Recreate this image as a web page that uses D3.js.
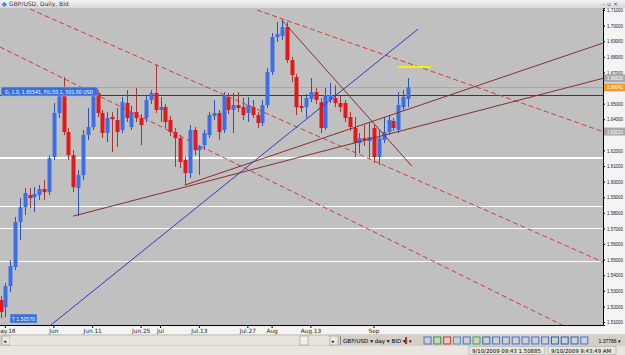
<!DOCTYPE html>
<html lang="en">
<head>
<meta charset="UTF-8">
<title>GBP/USD, Daily, Bid</title>
<script src="https://cdn.jsdelivr.net/npm/d3@7"></script>
<style>
  body { margin: 0; background: #d4d0c8; }
  svg { display: block; font-family: "DejaVu Sans", sans-serif; }
</style>
</head>
<body>
<svg id="mainsvg" width="625" height="355"></svg>
<script>
// daily GBP/USD bars, 2009-05-15 .. 2009-09-10 (weekdays)
const openP = [1.5241,1.5196,1.5331,1.5452,1.5741,1.5837,1.5914,1.5901,1.5914,1.5953,
  1.5933,1.6158,1.6440,1.6555,1.6318,1.6170,1.5959,1.6042,1.6299,1.6350,
  1.6568,1.6440,1.6311,1.6414,1.6395,1.6331,1.6504,1.6350,1.6446,1.6408,
  1.6408,1.6523,1.6568,1.6459,1.6478,1.6395,1.6318,1.6279,1.6138,1.6055,
  1.6331,1.6202,1.6235,1.6299,1.6420,1.6440,1.6331,1.6542,1.6459,1.6491,
  1.6478,1.6440,1.6478,1.6427,1.6376,1.6491,1.6702,1.6927,1.6933,1.6991,
  1.6779,1.6671,1.6485,1.6478,1.6530,1.6574,1.6510,1.6344,1.6523,1.6536,
  1.6504,1.6504,1.6414,1.6344,1.6247,1.6279,1.6260,1.6344,1.6158,1.6267,
  1.6318,1.6388,1.6331,1.6478,1.6530];
const highP = [1.5267,1.5350,1.5497,1.5773,1.5895,1.5959,1.5959,1.5965,1.5978,1.6010,
  1.6170,1.6504,1.6587,1.6671,1.6344,1.6202,1.6074,1.6331,1.6472,1.6606,
  1.6587,1.6459,1.6446,1.6446,1.6472,1.6542,1.6587,1.6485,1.6600,1.6433,
  1.6549,1.6587,1.6747,1.6542,1.6497,1.6420,1.6344,1.6299,1.6158,1.6363,
  1.6350,1.6235,1.6331,1.6446,1.6523,1.6459,1.6574,1.6568,1.6568,1.6574,
  1.6536,1.6542,1.6523,1.6446,1.6523,1.6728,1.6953,1.7023,1.7036,1.7023,
  1.6799,1.6690,1.6555,1.6562,1.6664,1.6600,1.6536,1.6600,1.6632,1.6619,
  1.6549,1.6523,1.6446,1.6414,1.6311,1.6363,1.6382,1.6363,1.6331,1.6414,
  1.6427,1.6408,1.6574,1.6587,1.6664];
const lowP = [1.5126,1.5132,1.5292,1.5433,1.5626,1.5786,1.5831,1.5805,1.5882,1.5882,
  1.5914,1.6138,1.6408,1.6299,1.6138,1.5933,1.5779,1.6010,1.6267,1.6331,
  1.6414,1.6279,1.6254,1.6190,1.6222,1.6311,1.6382,1.6331,1.6382,1.6235,
  1.6382,1.6497,1.6440,1.6382,1.6344,1.6292,1.6094,1.6087,1.5978,1.6023,
  1.6170,1.6042,1.6202,1.6279,1.6395,1.6267,1.6311,1.6433,1.6311,1.6446,
  1.6395,1.6382,1.6408,1.6344,1.6356,1.6472,1.6683,1.6895,1.6908,1.6760,
  1.6638,1.6427,1.6446,1.6408,1.6510,1.6497,1.6311,1.6331,1.6504,1.6478,
  1.6446,1.6382,1.6324,1.6158,1.6183,1.6228,1.6151,1.6119,1.6106,1.6247,
  1.6299,1.6324,1.6311,1.6459,1.6478];
const closeP = [1.5164,1.5331,1.5459,1.5741,1.5837,1.5927,1.5895,1.5921,1.5953,1.5933,
  1.6151,1.6440,1.6555,1.6318,1.6170,1.5965,1.6042,1.6299,1.6350,1.6568,
  1.6440,1.6311,1.6408,1.6401,1.6318,1.6510,1.6408,1.6446,1.6408,1.6363,
  1.6523,1.6568,1.6459,1.6478,1.6382,1.6318,1.6279,1.6126,1.6055,1.6331,
  1.6202,1.6228,1.6311,1.6427,1.6440,1.6318,1.6555,1.6459,1.6491,1.6472,
  1.6427,1.6491,1.6427,1.6376,1.6491,1.6702,1.6927,1.6946,1.6991,1.6779,
  1.6683,1.6478,1.6472,1.6536,1.6574,1.6523,1.6344,1.6555,1.6555,1.6504,
  1.6478,1.6408,1.6350,1.6247,1.6279,1.6267,1.6286,1.6158,1.6279,1.6318,
  1.6395,1.6344,1.6491,1.6542,1.66042];

// x-axis labels
const tickDates = ["2009-05-18","2009-06-01","2009-06-11","2009-06-25","2009-07-01",
  "2009-07-13","2009-07-27","2009-08-03","2009-08-13","2009-09-01"];
const tickLabels = ["May.18","Jun","Jun.11","Jun.25","Jul","Jul.13","Jul.27","Aug","Aug.13","Sep"];

// drawn objects: trendlines as [bar index, price] pairs
const trendFrom = [[6.1,1.7106],[52.9,1.7100],[-0.1,1.6863],[10.4,1.5081],[15,1.5779],[38,1.5978],[58,1.7036]];
const trendTo   = [[124.2,1.5485],[124.2,1.6321],[115.8,1.5081],[86.1,1.6978],[124.2,1.6662],[124.2,1.6888],[84.8,1.6100]];
const trendKind = ["dash","dash","dash","blue","solid","solid","solid"];
const yellowLine = [[82,1.6735],[88.8,1.6735]];
const whiteLevels = [1.5844,1.5701,1.5491];
const supportLevel = 1.6151;
const bidPrice = 1.66042;
const entryPrice = 1.65541;
const axisTags = [{v:1.6662,t:"1.66620",c:"#aaaaaa"},{v:1.6321,t:"1.63210",c:"#aaaaaa"},{v:1.66042,t:"1.66042",c:"#f09a2a"}];

const fmt = d3.timeFormat("%Y-%m-%d");
const dates = d3.timeDay.range(new Date(2009,4,15), new Date(2009,8,11))
  .filter(d => d.getDay() !== 0 && d.getDay() !== 6).map(fmt);
const bars = dates.map((d,i) => ({d, o:openP[i], h:highP[i], l:lowP[i], c:closeP[i]}));

const svg = d3.select("#mainsvg");
const plot = {left:0, right:603, top:8, bottom:325};

const step = 4.85;
const x0 = 0.5 - step/2;
const xScale = d3.scaleBand().domain(dates).range([x0, x0 + dates.length*step]);
const xc = d => xScale(d) + xScale.bandwidth()/2;
const xAt = i => x0 + xScale.step()*(i + 0.5);
const yScale = d3.scaleLinear().domain([1.5081, 1.7113]).range([plot.bottom, plot.top]);

// frames
svg.append("rect").attr("width",625).attr("height",355).attr("fill","#d4d0c8");
const defs = svg.append("defs");
const grad = defs.append("linearGradient").attr("id","tb").attr("x2",0).attr("y2",1);
grad.append("stop").attr("offset",0).attr("stop-color","#f4f4f4");
grad.append("stop").attr("offset",1).attr("stop-color","#d8d8d8");
svg.append("rect").attr("width",625).attr("height",plot.top).attr("fill","url(#tb)");
svg.append("rect").attr("x",plot.right).attr("y",plot.top).attr("width",22).attr("height",plot.bottom-plot.top+9).attr("fill","#f4f4f4");
svg.append("rect").attr("x",0).attr("y",plot.bottom).attr("width",625).attr("height",9).attr("fill","#f4f4f4");
svg.append("rect").attr("x",plot.left).attr("y",plot.top).attr("width",plot.right-plot.left).attr("height",plot.bottom-plot.top).attr("fill","#c0c0c0");

defs.append("clipPath").attr("id","clip").append("rect")
  .attr("x",plot.left).attr("y",plot.top).attr("width",plot.right-plot.left).attr("height",plot.bottom-plot.top);
const g = svg.append("g").attr("clip-path","url(#clip)");

// horizontal levels
whiteLevels.forEach(v => {
  g.append("line").attr("x1",plot.left).attr("x2",plot.right)
    .attr("y1",Math.round(yScale(v))+0.5).attr("y2",Math.round(yScale(v))+0.5)
    .attr("stroke","#ffffff").attr("stroke-width",1);
});
g.append("line").attr("x1",plot.left).attr("x2",plot.right)
  .attr("y1",Math.round(yScale(supportLevel))).attr("y2",Math.round(yScale(supportLevel)))
  .attr("stroke","#ffffff").attr("stroke-width",2);
g.append("line").attr("x1",plot.left).attr("x2",plot.right)
  .attr("y1",Math.round(yScale(bidPrice))+0.5).attr("y2",Math.round(yScale(bidPrice))+0.5)
  .attr("stroke","#e09a60").attr("stroke-width",1);
g.append("line").attr("x1",plot.left).attr("x2",plot.right)
  .attr("y1",Math.round(yScale(entryPrice))+0.5).attr("y2",Math.round(yScale(entryPrice))+0.5)
  .attr("stroke","#3c3c3c").attr("stroke-width",1);

// candles
const up = d => d.c >= d.o;
g.selectAll(".wick").data(bars).join("line").attr("class","wick")
  .attr("x1",d => Math.round(xc(d.d))+0.5).attr("x2",d => Math.round(xc(d.d))+0.5)
  .attr("y1",d => yScale(d.h)).attr("y2",d => yScale(d.l))
  .attr("stroke",d => up(d) ? "#3050c0" : "#a83434").attr("stroke-width",1);
g.selectAll(".body").data(bars).join("rect").attr("class","body")
  .attr("x",d => Math.round(xc(d.d)) - 1.5)
  .attr("width",4)
  .attr("y",d => yScale(Math.max(d.o,d.c)))
  .attr("height",d => Math.max(1.2, Math.abs(yScale(d.o)-yScale(d.c))))
  .attr("fill",d => up(d) ? "#3a70e4" : "#e41818");

// trendlines
trendFrom.forEach((a,k) => {
  const b = trendTo[k];
  const kind = trendKind[k];
  g.append("line")
    .attr("x1",xAt(a[0])).attr("y1",yScale(a[1]))
    .attr("x2",xAt(b[0])).attr("y2",yScale(b[1]))
    .attr("stroke", kind === "dash" ? "#d23a3a" : kind === "blue" ? "#3636c8" : "#8a2e2e")
    .attr("stroke-width",1)
    .attr("stroke-dasharray", kind === "dash" ? "5,3" : null);
});
g.append("line")
  .attr("x1",xAt(yellowLine[0][0])).attr("y1",yScale(yellowLine[0][1]))
  .attr("x2",xAt(yellowLine[1][0])).attr("y2",yScale(yellowLine[1][1]))
  .attr("stroke","#f4f000").attr("stroke-width",2);

// position and order tags
const pos = svg.append("g").attr("transform",`translate(1,${Math.round(yScale(entryPrice))-8})`);
pos.append("rect").attr("width",97).attr("height",9).attr("rx",2).attr("fill","#3a6fd8").attr("stroke","#9cb8ee").attr("stroke-width",0.6);
pos.append("text").attr("x",4).attr("y",6.6).attr("font-size",5.6).attr("fill","#ffffff")
  .attr("textLength",88).attr("lengthAdjust","spacingAndGlyphs")
  .text("D, 1.0, 1.65541, P/L:50.1, 501.00 USD");
const ord = svg.append("g").attr("transform",`translate(10,${plot.bottom-11})`);
ord.append("rect").attr("width",27).attr("height",9).attr("fill","#3a6fd8").attr("stroke","#9cb8ee").attr("stroke-width",0.6);
ord.append("text").attr("x",2).attr("y",6.6).attr("font-size",5.6).attr("fill","#ffffff")
  .attr("textLength",23).attr("lengthAdjust","spacingAndGlyphs").text("T 1.50570");

// y axis (labels hidden where a price tag sits on top of them)
const yTicks = d3.range(151,172).map(v => v/100)
  .filter(v => !axisTags.some(t => Math.abs(yScale(t.v) - yScale(v)) < 5));
const yAxis = d3.axisRight(yScale).tickValues(yTicks)
  .tickFormat(d3.format(".5f")).tickSize(2).tickPadding(1);
const ya = svg.append("g").attr("transform",`translate(${plot.right},0)`).call(yAxis);
ya.select(".domain").attr("stroke","#000");
ya.selectAll(".tick text").attr("font-size",5.1).attr("font-family","Liberation Sans").attr("fill","#202020")
  .attr("text-anchor","end").attr("x",20)
  .attr("textLength",16).attr("lengthAdjust","spacingAndGlyphs");
axisTags.forEach(t => {
  const yy = yScale(t.v);
  svg.append("rect").attr("x",plot.right+1).attr("y",yy-4).attr("width",21).attr("height",8).attr("fill",t.c);
  svg.append("text").attr("x",plot.right+20).attr("y",yy+2.1).attr("font-size",5.1).attr("font-family","Liberation Sans")
    .attr("text-anchor","end").attr("fill","#ffffff")
    .attr("textLength",16).attr("lengthAdjust","spacingAndGlyphs").text(t.t);
});

// x axis
const xAxis = d3.axisBottom(xScale).tickValues(tickDates)
  .tickFormat((d,i) => tickLabels[i]).tickSize(3).tickPadding(1).tickSizeOuter(0);
const xa = svg.append("g").attr("transform",`translate(0,${plot.bottom})`).call(xAxis);
xa.select(".domain").attr("d",`M0,0.5H${plot.right}`).attr("stroke","#000");
xa.selectAll(".tick text").attr("font-size",5.8).attr("font-family","DejaVu Sans").attr("fill","#202020");

// title bar
svg.append("text").attr("x",1).attr("y",6.5).attr("font-size",7).attr("fill","#2c6ad0").text("\u2756");
svg.append("text").attr("x",9).attr("y",6.3).attr("font-size",6).attr("fill","#303850").text("GBP/USD, Daily, Bid");
svg.append("text").attr("x",602).attr("y",6.3).attr("font-size",6).attr("fill","#555").text("\u2013 \u25AB \u00D7");

// toolbar row
const tb = svg.append("g").attr("transform","translate(0,334)");
tb.append("rect").attr("x",2).attr("y",2).attr("width",8).attr("height",9).attr("fill","#ece9e2").attr("stroke","#888").attr("stroke-width",0.5);
tb.append("text").attr("x",3.5).attr("y",8.6).attr("font-size",5).attr("fill","#000").text("\u25C2");
tb.append("rect").attr("x",10).attr("y",2).attr("width",320).attr("height",9).attr("fill","#e6e3dc");
tb.append("rect").attr("x",300).attr("y",2).attr("width",8).attr("height",9).attr("fill","#f2f0ea").attr("stroke","#888").attr("stroke-width",0.5);
tb.append("rect").attr("x",330).attr("y",2).attr("width",8).attr("height",9).attr("fill","#ece9e2").attr("stroke","#888").attr("stroke-width",0.5);
tb.append("text").attr("x",332).attr("y",8.6).attr("font-size",5).attr("fill","#000").text("\u25B8");
tb.append("line").attr("x1",340.5).attr("x2",340.5).attr("y1",2).attr("y2",11).attr("stroke","#888");
tb.append("text").attr("x",343).attr("y",8.6).attr("font-size",5.6).attr("fill","#000").text("GBP/USD \u25BE   day \u25BE   BID \u25BE");
tb.append("rect").attr("x",405).attr("y",3).attr("width",2).attr("height",7).attr("fill","#e02020");
tb.append("text").attr("x",409).attr("y",8.6).attr("font-size",5).attr("fill","#000").text("\u25BE");
const iconColors = ["#3a70e4","#2aa02a","#e03030","#4a90d0","#3a70e4","#40a040","#2a60c0","#3a70e4","#3a70e4","#3a70e4","#3a70e4","#3a70e4","#3a70e4","#2060c0","#2060c0","#2060c0","#3a70e4"];
iconColors.forEach((c,i) => {
  const ix = 424 + i*9.8;
  tb.append("rect").attr("x",ix).attr("y",3).attr("width",7).attr("height",7).attr("fill","none").attr("stroke",c).attr("stroke-width",1);
});
tb.append("text").attr("x",621).attr("y",8.6).attr("font-size",5).attr("font-family","Liberation Sans").attr("fill","#000")
  .attr("text-anchor","end").text("1.37786 \u25BE");

// status bar
const sb = svg.append("g").attr("transform","translate(0,346)");
sb.append("rect").attr("width",625).attr("height",9).attr("fill","#e8e6df");
sb.append("rect").attr("x",469).attr("y",0.5).attr("width",76).attr("height",8).attr("fill","none").attr("stroke","#a8a59c").attr("stroke-width",0.6);
sb.append("rect").attr("x",548).attr("y",0.5).attr("width",68).attr("height",8).attr("fill","none").attr("stroke","#a8a59c").attr("stroke-width",0.6);
sb.append("text").attr("x",472).attr("y",6.6).attr("font-size",5.4).attr("fill","#000").text("9/10/2009 09:43   1.50885");
sb.append("text").attr("x",551).attr("y",6.6).attr("font-size",5.4).attr("fill","#000").text("9/10/2009 9:43:49 AM");
</script>
</body>
</html>
